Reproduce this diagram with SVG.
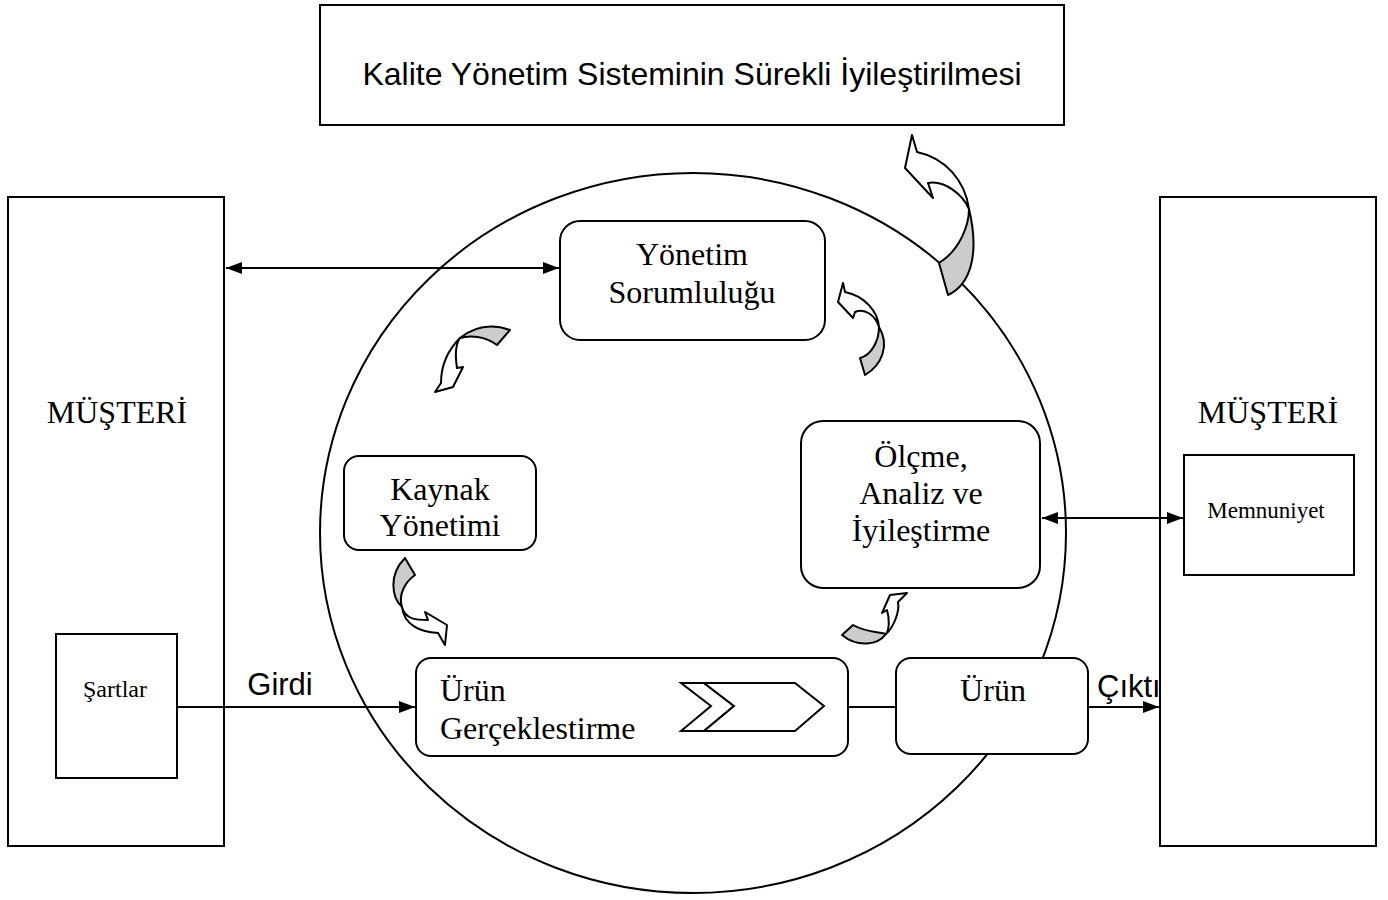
<svg xmlns="http://www.w3.org/2000/svg" width="1388" height="900" viewBox="0 0 1388 900">
<defs>
<style>
.box{fill:#fff;stroke:#000;stroke-width:2}
.rbox{fill:#fff;stroke:#000;stroke-width:2}
.ser{font-family:"Liberation Serif","Times New Roman",serif;font-size:32px;fill:#000}
.san{font-family:"Liberation Sans",Arial,sans-serif;font-size:31px;fill:#000}
.ln{stroke:#000;stroke-width:2;fill:none}
.wa{fill:#fff;stroke:#000;stroke-width:2;stroke-linejoin:round}
.ga{fill:#ccc;stroke:#000;stroke-width:2;stroke-linejoin:round}
</style>
<marker id="ah" viewBox="0 0 16 12" refX="16" refY="6" markerWidth="16" markerHeight="12" markerUnits="userSpaceOnUse" orient="auto-start-reverse">
<path d="M0,0 L16,6 L0,12 Z" fill="#000"/>
</marker>
</defs>
<rect width="1388" height="900" fill="#fff"/>

<g id="circle"><ellipse cx="693" cy="533" rx="373" ry="360" class="ln"/></g>

<g id="title"><rect x="320" y="5" width="744" height="120" class="box"/>
<text x="692" y="85" class="san" text-anchor="middle" style="font-size:32px">Kalite Yönetim Sisteminin Sürekli İyileştirilmesi</text></g>

<g id="musteri-left"><rect x="8" y="197" width="216" height="649" class="box"/>
<text x="117" y="423" class="ser" text-anchor="middle">MÜŞTERİ</text></g>
<g id="sartlar"><rect x="56" y="634" width="121" height="144" class="box"/>
<text x="115" y="697" class="ser" text-anchor="middle" style="font-size:24px">Şartlar</text></g>

<g id="musteri-right"><rect x="1160" y="197" width="216" height="649" class="box"/>
<text x="1268" y="423" class="ser" text-anchor="middle">MÜŞTERİ</text></g>
<g id="memnuniyet"><rect x="1184" y="455" width="170" height="120" class="box"/>
<text x="1266" y="518" class="ser" text-anchor="middle" style="font-size:23px">Memnuniyet</text></g>

<g id="yonetim"><rect x="560" y="221" width="265" height="119" rx="20" class="rbox"/>
<text x="692" y="265" class="ser" text-anchor="middle">Yönetim</text>
<text x="692" y="303" class="ser" text-anchor="middle">Sorumluluğu</text></g>

<g id="kaynak"><rect x="344" y="456" width="192" height="94" rx="15" class="rbox"/>
<text x="440" y="500" class="ser" text-anchor="middle">Kaynak</text>
<text x="440" y="536" class="ser" text-anchor="middle">Yönetimi</text></g>

<g id="olcme"><rect x="801" y="421" width="239" height="167" rx="22" class="rbox"/>
<text x="921" y="467" class="ser" text-anchor="middle">Ölçme,</text>
<text x="921" y="504" class="ser" text-anchor="middle">Analiz ve</text>
<text x="921" y="541" class="ser" text-anchor="middle">İyileştirme</text></g>

<g id="urun-gerceklestirme"><rect x="416" y="658" width="432" height="98" rx="15" class="rbox"/>
<text x="440" y="701" class="ser">Ürün</text>
<text x="440" y="739" class="ser">Gerçeklestirme</text>
<polygon points="681,683 704,683 734,706 704,731 681,731 711,706" class="wa" style="stroke-linejoin:miter"/>
<polygon points="704,683 795,683 824,706 795,731 704,731 734,706" class="wa" style="stroke-linejoin:miter"/></g>

<g id="urun"><rect x="896" y="658" width="192" height="96" rx="15" class="rbox"/>
<text x="993" y="701" class="ser" text-anchor="middle">Ürün</text></g>

<g id="connectors">
<line x1="226" y1="268" x2="559" y2="268" class="ln" marker-start="url(#ah)" marker-end="url(#ah)"/>
<line x1="1042" y1="518" x2="1183" y2="518" class="ln" marker-start="url(#ah)" marker-end="url(#ah)"/>
<line x1="177" y1="707" x2="415" y2="707" class="ln" marker-end="url(#ah)"/>
<line x1="848" y1="707" x2="896" y2="707" class="ln"/>
<line x1="1088" y1="707" x2="1159" y2="707" class="ln" marker-end="url(#ah)"/>
<text x="280" y="695" class="san" text-anchor="middle">Girdi</text>
<text x="1097" y="697" class="san">Çıktı</text>
</g>

<g id="curved-arrows">
<path class="wa" d="M917,152 L912,135 L905,168 L933,198 L928,183 C945,180 963,195 969,209 C965,180 945,158 917,152 Z"/>
<path class="ga" d="M969,209 C969,225 960,250 939,263 L948,295 C970,285 980,255 969,209 Z"/>
<path class="ga" d="M460,338 C470,330 487,322 510,330 L497,345 C485,336 470,335 460,338 Z"/>
<path class="wa" d="M460,338 C448,350 441,365 441,383 L435,392 L453,387 L463,367 L457,368 C455,355 455,345 460,338 Z"/>
<path class="wa" d="M845,292 L843,283 L838,302 L853,318 L855,312 C865,308 875,315 879,327 C878,312 865,296 845,292 Z"/>
<path class="ga" d="M879,327 C879,340 872,355 860,358 L865,375 C882,365 890,345 879,327 Z"/>
<path class="ga" d="M405,558 L415,575 C405,582 398,595 402,607 C392,598 388,575 405,558 Z"/>
<path class="wa" d="M402,607 C405,620 418,620 428,620 L425,612 L447,625 L445,645 L438,633 C420,632 404,625 402,607 Z"/>
<path class="ga" d="M842,635 L853,625 C865,632 878,632 886,634 C878,645 858,648 842,635 Z"/>
<path class="wa" d="M886,634 C893,628 900,612 898,602 L907,593 L890,595 L882,613 L887,610 C890,620 889,630 886,634 Z"/>
</g>
</svg>
